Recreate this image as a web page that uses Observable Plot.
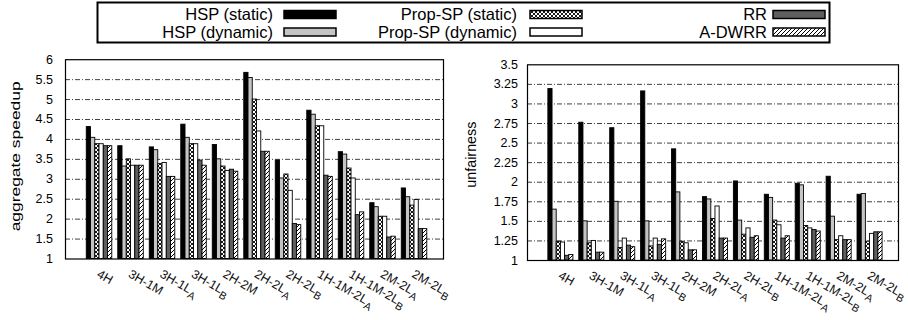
<!DOCTYPE html>
<html>
<head>
<meta charset="utf-8">
<script src="https://cdn.jsdelivr.net/npm/d3@7"></script>
<script src="https://cdn.jsdelivr.net/npm/@observablehq/plot@0.6"></script>
<style>
  body { margin: 0; background: #fff; font-family: "Liberation Sans", Arial, sans-serif; }
  #fig { position: relative; width: 908px; height: 320px; overflow: hidden; background: #fff; }
  #fig > svg { position: absolute; overflow: visible; }
</style>
</head>
<body>
<!-- fill patterns shared by bars and legend swatches -->
<svg width="0" height="0" style="position:absolute">
  <defs>
    <pattern id="cross" patternUnits="userSpaceOnUse" width="4" height="4">
      <rect width="4" height="4" fill="#fff"/>
      <path d="M0,0L4,4M4,0L0,4" stroke="#000" stroke-width="0.9"/>
    </pattern>
    <pattern id="diag" patternUnits="userSpaceOnUse" width="4" height="4">
      <rect width="4" height="4" fill="#fff"/>
      <path d="M-1,1L1,-1M0,4L4,0M3,5L5,3" stroke="#000" stroke-width="1"/>
    </pattern>
  </defs>
</svg>
<div id="fig"></div>
<script>
// workload mixes; "_X" marks a subscript letter
const categories = ["4H", "3H-1M", "3H-1L_A", "3H-1L_B", "2H-2M", "2H-2L_A", "2H-2L_B",
                    "1H-1M-2L_A", "1H-1M-2L_B", "2M-2L_A", "2M-2L_B"];
const seriesNames = ["HSP (static)", "HSP (dynamic)", "Prop-SP (static)",
                     "Prop-SP (dynamic)", "RR", "A-DWRR"];
const seriesFills = ["#000", "#c4c4c4", "url(#cross)", "#fff", "#5f5f5f", "url(#diag)"];

// aggregate speedup per scheme
const speedupHspStatic   = [4.31, 3.83, 3.80, 4.37, 3.86, 5.67, 3.47, 4.72, 3.68, 2.40, 2.77];
const speedupHspDynamic  = [4.04, 3.32, 3.73, 4.04, 3.50, 5.54, 3.02, 4.62, 3.62, 2.30, 2.55];
const speedupPropStatic  = [3.88, 3.50, 3.38, 3.88, 3.32, 5.00, 3.12, 4.33, 3.27, 2.06, 2.34];
const speedupPropDynamic = [3.88, 3.34, 3.41, 3.88, 3.21, 4.20, 2.71, 4.33, 3.02, 2.06, 2.48];
const speedupRR          = [3.83, 3.34, 3.06, 3.47, 3.24, 3.69, 1.88, 3.09, 2.10, 1.54, 1.75];
const speedupADWRR       = [3.83, 3.34, 3.06, 3.34, 3.19, 3.69, 1.85, 3.06, 2.17, 1.56, 1.75];

// unfairness per scheme
const unfairHspStatic   = [3.19, 2.76, 2.69, 3.16, 2.42, 1.81, 2.01, 1.84, 1.98, 2.07, 1.84];
const unfairHspDynamic  = [1.65, 1.50, 1.75, 1.50, 1.87, 1.78, 1.51, 1.80, 1.96, 1.56, 1.85];
const unfairPropStatic  = [1.24, 1.22, 1.16, 1.18, 1.24, 1.53, 1.33, 1.51, 1.44, 1.26, 1.24];
const unfairPropDynamic = [1.23, 1.25, 1.28, 1.28, 1.22, 1.69, 1.41, 1.45, 1.41, 1.31, 1.34];
const unfairRR          = [1.06, 1.10, 1.19, 1.20, 1.13, 1.28, 1.29, 1.28, 1.39, 1.26, 1.36];
const unfairADWRR       = [1.07, 1.10, 1.17, 1.27, 1.13, 1.28, 1.31, 1.31, 1.37, 1.26, 1.36];

const speedupTicks = [1, 1.5, 2, 2.5, 3, 3.5, 4, 4.5, 5, 5.5, 6];
const unfairTicks  = [1, 1.25, 1.5, 1.75, 2, 2.25, 2.5, 2.75, 3, 3.25, 3.5];

const FONT = "'Liberation Sans', Arial, Helvetica, sans-serif";
const BAR = 0.135; // width of one bar, in category units

function panel({series, ticks, title, width, height, margins, tickPadding, titleDx, titleDy, titleSize, titleLength}) {
  const lo = ticks[0], hi = ticks[ticks.length - 1];
  const svg = Plot.plot({
    width, height, ...margins,
    style: {fontFamily: FONT, fontSize: "12px", color: "#000", background: "transparent", overflow: "visible"},
    x: {type: "linear", domain: [-1.08, 10.92], axis: null},
    y: {domain: [lo, hi]},
    marks: [
      Plot.ruleY(ticks.slice(1, -1), {stroke: "#111", strokeWidth: 0.8, strokeDasharray: "5,2,1,2"}),
      ...series.map((vals, j) => Plot.rect(vals, {
        x1: (d, i) => i + (j - 3) * BAR,
        x2: (d, i) => i + (j - 2) * BAR,
        y1: lo, y2: d => d,
        fill: seriesFills[j], stroke: "#000", strokeWidth: 0.9
      })),
      Plot.axisY(ticks, {tickSize: 0, tickPadding, fontSize: 12.5, label: null, tickFormat: d => String(d)}),
      Plot.text(categories, {
        x: (d, i) => i, frameAnchor: "bottom", dx: -3.5, dy: 17.5,
        rotate: 30, textAnchor: "start", lineAnchor: "bottom", fontSize: 12.5, fill: "#111"
      }),
      Plot.text([title], {frameAnchor: "left", dx: titleDx, dy: titleDy, rotate: -90, fontSize: titleSize}),
      Plot.frame({stroke: "#000", strokeWidth: 1.2})
    ]
  });
  const root = d3.select(svg);
  root.selectAll("text").each(function () {
    const t = this.textContent;
    const m = t.match(/^(.*)_([A-Z])$/);
    if (m) {
      this.textContent = m[1];
      d3.select(this).append("tspan").attr("dy", "0.38em").attr("font-size", "0.85em").text(m[2]);
    } else if (t === title && titleLength) {
      // stretch the axis title along its run, laid out from its start
      d3.select(this)
        .attr("text-anchor", "start")
        .attr("x", -titleLength / 2)
        .attr("textLength", titleLength)
        .attr("lengthAdjust", "spacingAndGlyphs");
    }
  });
  return svg;
}

const fig = document.getElementById("fig");

// legend box
const legend = d3.create("svg").attr("width", 908).attr("height", 46)
  .style("left", "0px").style("top", "0px").style("font-family", FONT);
legend.append("rect").attr("x", 97.5).attr("y", 2.5).attr("width", 732).attr("height", 40)
  .attr("fill", "#fff").attr("stroke", "#000").attr("stroke-width", 2);
const colTextEnd = [273, 517, 767], colSwatch = [284, 530, 773], rowY = [14.5, 32];
seriesNames.forEach((name, j) => {
  const c = Math.floor(j / 2), r = j % 2;
  legend.append("text").attr("x", colTextEnd[c]).attr("y", rowY[r]).attr("dy", "0.35em")
    .attr("text-anchor", "end").attr("font-size", 16.5).text(name);
  legend.append("rect").attr("x", colSwatch[c]).attr("y", rowY[r] - 4).attr("width", 52).attr("height", 8)
    .attr("fill", seriesFills[j]).attr("stroke", "#000").attr("stroke-width", 1.5);
});
fig.appendChild(legend.node());

const left = panel({
  series: [speedupHspStatic, speedupHspDynamic, speedupPropStatic, speedupPropDynamic, speedupRR, speedupADWRR],
  ticks: speedupTicks, title: "aggregate speedup",
  width: 452, height: 272,
  margins: {marginLeft: 65, marginRight: 9, marginTop: 11.2, marginBottom: 61.5},
  tickPadding: 12.5, titleDx: -50, titleDy: -3, titleSize: 13.5, titleLength: 150
});
left.style.left = "0px"; left.style.top = "48px";
fig.appendChild(left);

const right = panel({
  series: [unfairHspStatic, unfairHspDynamic, unfairPropStatic, unfairPropDynamic, unfairRR, unfairADWRR],
  ticks: unfairTicks, title: "unfairness",
  width: 456, height: 272,
  margins: {marginLeft: 75, marginRight: 10, marginTop: 16.3, marginBottom: 60},
  tickPadding: 9.5, titleDx: -56, titleDy: -8, titleSize: 15, titleLength: 66
});
right.style.left = "452px"; right.style.top = "48px";
fig.appendChild(right);
</script>
</body>
</html>
